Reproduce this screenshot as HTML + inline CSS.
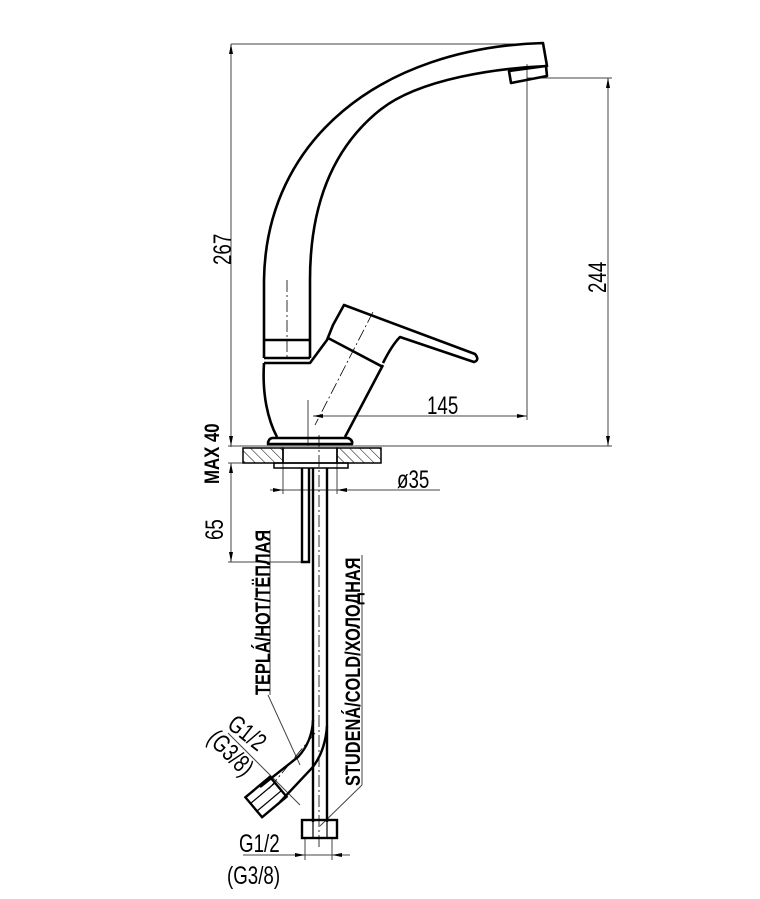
<!DOCTYPE html>
<html><head><meta charset="utf-8"><style>
html,body{margin:0;padding:0;background:#fff}
svg{display:block}
text{font-family:"Liberation Sans","DejaVu Sans",sans-serif;fill:#000}
</style></head><body>
<svg width="760" height="899" viewBox="0 0 760 899" xmlns="http://www.w3.org/2000/svg">
<defs>
<pattern id="h" width="7" height="7" patternUnits="userSpaceOnUse" patternTransform="rotate(-45)">
<line x1="0" y1="0" x2="0" y2="7" stroke="#000" stroke-width="1"/>
</pattern>
</defs>
<g stroke="#444" stroke-width="1" fill="none">
<line x1="231" y1="44" x2="543" y2="44"/>
<line x1="231" y1="44" x2="231" y2="447"/>
<line x1="228" y1="446" x2="612" y2="446"/>
<line x1="527" y1="78" x2="612" y2="78"/>
<line x1="608" y1="78" x2="608" y2="446"/>
<line x1="527" y1="64" x2="527" y2="420"/>
<line x1="313" y1="416" x2="527" y2="416"/>
<line x1="308" y1="400" x2="308" y2="446"/>
<line x1="228" y1="463" x2="290" y2="463"/>
<line x1="231" y1="463" x2="231" y2="562"/>
<line x1="228" y1="562" x2="302" y2="562"/>
<line x1="270" y1="490" x2="440" y2="490"/>
<line x1="283" y1="463" x2="283" y2="494"/>
<line x1="337" y1="463" x2="337" y2="494"/>
<line x1="243" y1="855" x2="350" y2="855"/>
<line x1="305" y1="838" x2="305" y2="860"/>
<line x1="332" y1="838" x2="332" y2="860"/>
<line x1="268" y1="695" x2="300" y2="765"/>
<line x1="362" y1="785" x2="320" y2="826"/>
<line x1="362" y1="555" x2="362" y2="785"/>
<line x1="270" y1="530" x2="270" y2="695"/>
<line x1="228" y1="733" x2="300" y2="805"/>
</g>
<g fill="#000">
<polygon points="231,44 229,54 233,54"/>
<polygon points="231,446 229,436 233,436"/>
<polygon points="608,78 606,88 610,88"/>
<polygon points="608,446 606,436 610,436"/>
<polygon points="313,416 323,414 323,418"/>
<polygon points="527,416 517,414 517,418"/>
<polygon points="231,463 229,473 233,473"/>
<polygon points="231,562 229,552 233,552"/>
<polygon points="283,490 273,488 273,492"/>
<polygon points="337,490 347,488 347,492"/>
<polygon points="305,855 295,853 295,857"/>
<polygon points="332,855 342,853 342,857"/>
</g>
<g stroke="#000" stroke-width="0.8" stroke-dasharray="12,3,2,3" fill="none">
<line x1="287" y1="280" x2="287" y2="360"/>
<line x1="373" y1="312" x2="315" y2="425"/>
<line x1="319" y1="435" x2="319" y2="850"/>
<line x1="315" y1="733" x2="268" y2="790"/>
</g>
<g stroke="#000" stroke-width="2.6" fill="none" stroke-linejoin="round">
<path d="M264,358 L264,280 C266,140 380,48 543,43 L547,66 C500,68 420,78 380,110 C330,150 310,210 310,280 L310,358"/>
<path d="M264,340 L310,340"/>
<path d="M264,358 L310,358"/>
<path d="M509,71 L546,66 L547,76 L511,83 Z"/>
<path d="M264,363 L310,363 L327,340 L333,325 L344,305 L475,354 Q480,360 474,362 L400,337 Q392,345 383,363"/>
<path d="M328,338 L383,367"/>
<path d="M264,363 C262,395 268,420 277,437"/>
<path d="M383,365 L345,437"/>
<path d="M272,438 L348,438 Q353,440 352,444 L268,444 Q268,439 272,438 Z"/>
</g>
<rect x="243" y="448" width="40" height="15" fill="url(#h)" stroke="#000" stroke-width="1.5"/>
<rect x="337" y="448" width="44" height="15" fill="url(#h)" stroke="#000" stroke-width="1.5"/>
<rect x="283" y="448" width="54" height="15" fill="none" stroke="#000" stroke-width="1.5"/>
<rect x="274" y="463" width="74" height="5" fill="none" stroke="#000" stroke-width="1.5"/>
<g stroke="#000" stroke-width="2.4" fill="none">
<path d="M302,468 L302,562 L309,562 L309,468"/>
<line x1="313" y1="468" x2="313" y2="822"/>
<line x1="327" y1="468" x2="327" y2="822"/>
<path d="M313,720 Q312,742 298,757 L260,787"/>
<path d="M327,726 Q325,752 312,768 L280,802"/>
<rect x="302" y="820" width="35" height="18"/>
<line x1="313" y1="820" x2="313" y2="838" stroke-width="1.2"/>
<line x1="327" y1="820" x2="327" y2="838" stroke-width="1.2"/>
<g transform="translate(266,797) rotate(-40)">
<rect x="-16" y="-13" width="32" height="26"/>
<line x1="-16" y1="-5" x2="16" y2="-5" stroke-width="1.2"/>
<line x1="-16" y1="5" x2="16" y2="5" stroke-width="1.2"/>
</g>
</g>
<g font-size="25">
<text transform="translate(231,265) rotate(-90) scale(0.75,1)">267</text>
<text transform="translate(606,293) rotate(-90) scale(0.75,1)">244</text>
<text transform="translate(427,414) scale(0.75,1)">145</text>
<text transform="translate(397,488) scale(0.75,1)">ø35</text>
<text transform="translate(223,540) rotate(-90) scale(0.75,1)">65</text>
<text transform="translate(239,852) scale(0.75,1)">G1/2</text>
<text transform="translate(227,884) scale(0.75,1)">(G3/8)</text>
<text transform="translate(226,727) rotate(38) scale(0.75,1)">G1/2</text>
<text transform="translate(206,740) rotate(45) scale(0.75,1)">(G3/8)</text>
</g>
<g font-weight="bold" font-size="21">
<text transform="translate(219,484) rotate(-90) scale(0.8,1)">MAX  40</text>
<text transform="translate(270,695) rotate(-90) scale(0.78,1)">TEPLÁ/HOT/ТЁПЛАЯ</text>
<text transform="translate(360,786) rotate(-90) scale(0.78,1)">STUDENÁ/COLD/ХОЛОДНАЯ</text>
</g>
</svg>
</body></html>
